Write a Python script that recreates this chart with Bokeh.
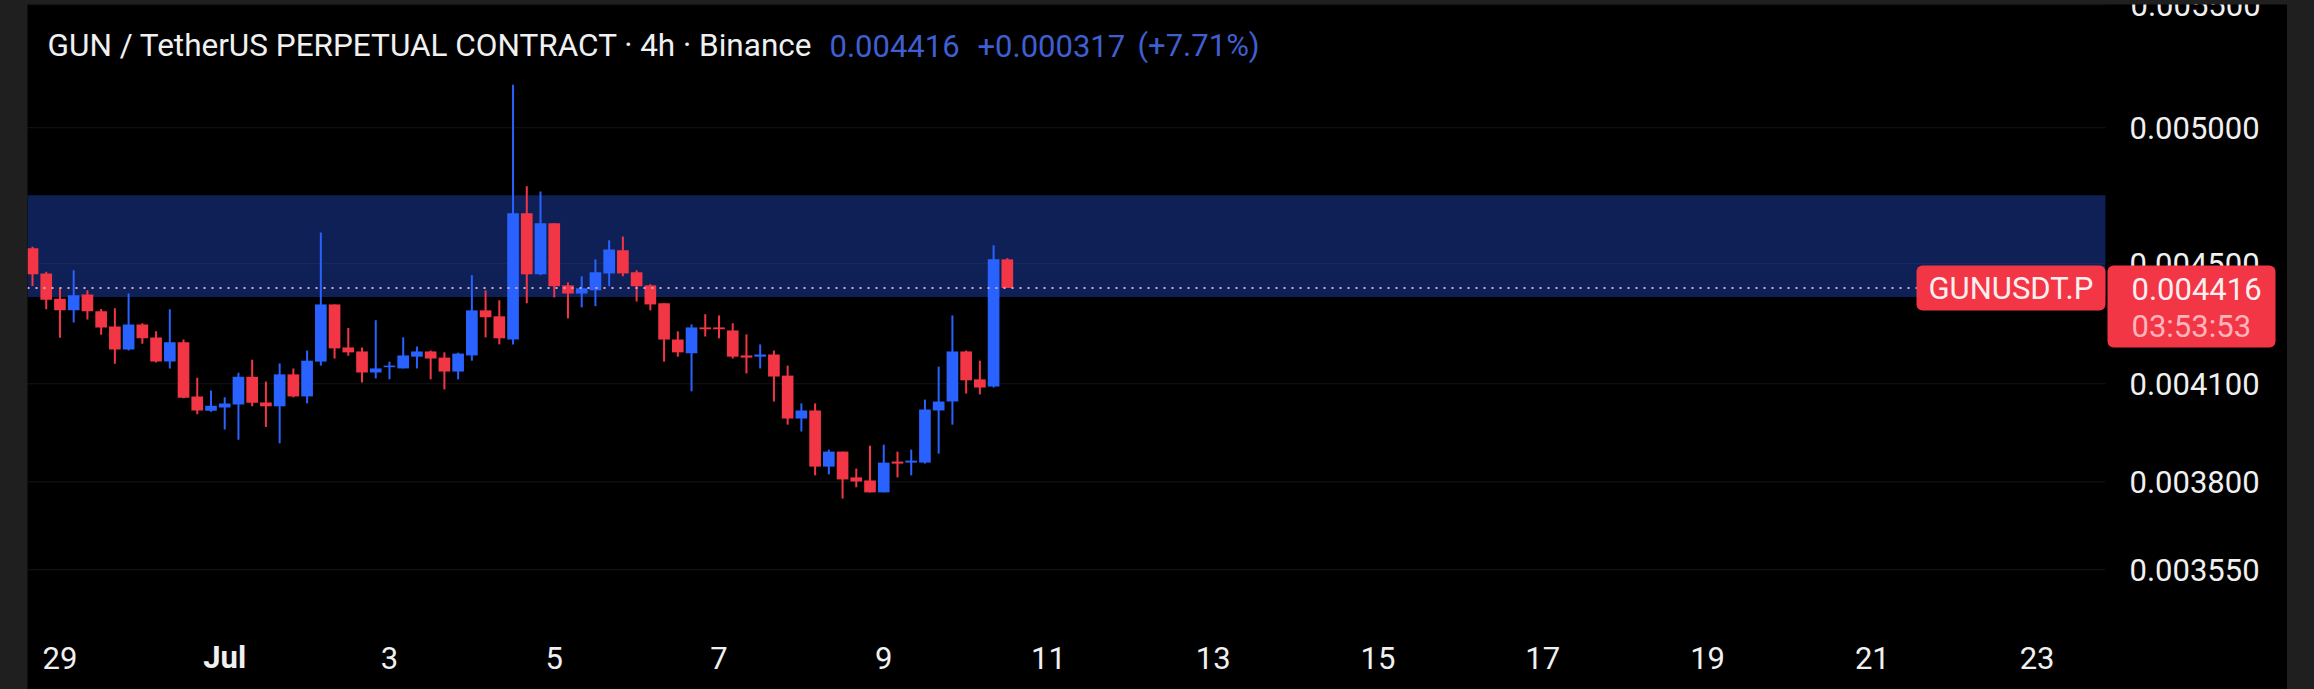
import numpy as np
from bokeh.embed import file_html
from bokeh.models import (BoxAnnotation, ColumnDataSource, FixedTicker, GlobalInlineStyleSheet,
                          Label, PrintfTickFormatter, Range1d)
from bokeh.plotting import figure
from bokeh.resources import INLINE

candle_open = [0.004554, 0.004466, 0.004379, 0.004340, 0.004394, 0.004337, 0.004286, 0.004210, 0.004293,
               0.004250, 0.004171, 0.004234, 0.004060, 0.004015, 0.004025, 0.004035, 0.004122, 0.004041,
               0.004029, 0.004130, 0.004060, 0.004171, 0.004360, 0.004217, 0.004204, 0.004136, 0.004153,
               0.004149, 0.004187, 0.004204, 0.004184, 0.004139, 0.004191, 0.004340, 0.004320, 0.004243,
               0.004679, 0.004463, 0.004643, 0.004425, 0.004397, 0.004408, 0.004466, 0.004547, 0.004470,
               0.004425, 0.004364, 0.004243, 0.004198, 0.004283, 0.004283, 0.004273, 0.004191, 0.004187,
               0.004194, 0.004126, 0.003991, 0.004016, 0.003845, 0.003890, 0.003813, 0.003804, 0.003769,
               0.003860, 0.003857, 0.003857, 0.004016, 0.004044, 0.004204, 0.004114, 0.004091, 0.004515]
candle_high = [0.004559, 0.004472, 0.004417, 0.004477, 0.004408, 0.004345, 0.004347, 0.004397, 0.004297,
               0.004270, 0.004344, 0.004243, 0.004119, 0.004079, 0.004057, 0.004135, 0.004177, 0.004107,
               0.004165, 0.004149, 0.004207, 0.004610, 0.004360, 0.004281, 0.004217, 0.004307, 0.004171,
               0.004250, 0.004220, 0.004207, 0.004201, 0.004200, 0.004460, 0.004408, 0.004374, 0.005169,
               0.004778, 0.004759, 0.004643, 0.004435, 0.004456, 0.004515, 0.004582, 0.004596, 0.004477,
               0.004429, 0.004364, 0.004270, 0.004293, 0.004327, 0.004323, 0.004297, 0.004260, 0.004227,
               0.004207, 0.004158, 0.004038, 0.004038, 0.003896, 0.003890, 0.003839, 0.003908, 0.003911,
               0.003890, 0.003896, 0.004050, 0.004155, 0.004323, 0.004207, 0.004174, 0.004565, 0.004519]
candle_low = [0.004423, 0.004344, 0.004249, 0.004299, 0.004309, 0.004259, 0.004164, 0.004207, 0.004229,
              0.004168, 0.004149, 0.004054, 0.004004, 0.004012, 0.003957, 0.003926, 0.004029, 0.003965,
              0.003915, 0.004057, 0.004038, 0.004158, 0.004181, 0.004190, 0.004104, 0.004117, 0.004114,
              0.004149, 0.004149, 0.004114, 0.004082, 0.004114, 0.004174, 0.004250, 0.004227, 0.004227,
              0.004364, 0.004460, 0.004384, 0.004313, 0.004350, 0.004354, 0.004422, 0.004456, 0.004370,
              0.004340, 0.004171, 0.004187, 0.004076, 0.004253, 0.004247, 0.004181, 0.004133, 0.004149,
              0.004044, 0.003972, 0.003951, 0.003819, 0.003822, 0.003751, 0.003784, 0.003769, 0.003769,
              0.003813, 0.003819, 0.003854, 0.003884, 0.003972, 0.004069, 0.004066, 0.004088, 0.004416]
candle_close = [0.004463, 0.004376, 0.004340, 0.004391, 0.004337, 0.004283, 0.004210, 0.004293, 0.004247,
                0.004171, 0.004234, 0.004056, 0.004016, 0.004031, 0.004038, 0.004122, 0.004040, 0.004029,
                0.004130, 0.004060, 0.004174, 0.004360, 0.004214, 0.004201, 0.004136, 0.004149, 0.004158,
                0.004191, 0.004204, 0.004181, 0.004139, 0.004197, 0.004340, 0.004317, 0.004247, 0.004679,
                0.004463, 0.004643, 0.004422, 0.004397, 0.004415, 0.004470, 0.004550, 0.004466, 0.004422,
                0.004360, 0.004243, 0.004201, 0.004283, 0.004277, 0.004277, 0.004187, 0.004184, 0.004194,
                0.004123, 0.003991, 0.004016, 0.003845, 0.003890, 0.003807, 0.003801, 0.003769, 0.003857,
                0.003854, 0.003863, 0.004019, 0.004044, 0.004204, 0.004111, 0.004088, 0.004515, 0.004416]

price_ticks = [0.00355, 0.0038, 0.0041, 0.0045, 0.005]
date_ticks = list(range(2, 147, 12))
date_labels = ["29", "", "3", "5", "7", "9", "11", "13", "15", "17", "19", "21", "23"]

zone_low = 0.004385
zone_high = 0.004745
last_price = 0.004416

BLUE = "#2962ff"
RED = "#f23645"
FONT = "Roboto"

# candle pane ends here, the rest of the frame is the price scale
pane_start = -0.364
pane_end = 150.98

idx = np.arange(len(candle_open))
opens = np.array(candle_open)
closes = np.array(candle_close)
up = closes >= opens
source = ColumnDataSource(data=dict(
    x=idx,
    top=np.maximum(opens, closes),
    bottom=np.minimum(opens, closes),
    high=candle_high,
    low=candle_low,
    color=[BLUE if u else RED for u in up],
))

# the grey screenshot frame is just the page showing round the figure.
# annotations get clipped to the frame, so the frame fills the figure and the axes
# pull their labels back inside with negative standoffs
p = figure(width=2260, height=685, margin=(4, 0, 0, 27), output_backend="svg", toolbar_location=None,
           y_axis_type="log", y_axis_location="right",
           x_range=Range1d(pane_start, 164.24), y_range=Range1d(0.003235, 0.005501),
           background_fill_color="#000000", border_fill_color="#000000",
           min_border_left=0, min_border_right=0, min_border_top=0, min_border_bottom=0)
p.outline_line_color = None
p.stylesheets = [GlobalInlineStyleSheet(css="body{background:#1f1f1f}")]
p.grid.visible = False

p.yaxis.ticker = FixedTicker(ticks=price_ticks)
p.yaxis.formatter = PrintfTickFormatter(format="%.6f")
p.yaxis.major_label_standoff = -164
p.xaxis.ticker = FixedTicker(ticks=date_ticks)
p.xaxis.major_label_overrides = dict(zip(date_ticks, date_labels))
p.xaxis.major_label_standoff = -49
for ax in (p.xaxis[0], p.yaxis[0]):
    ax.axis_line_color = None
    ax.major_tick_line_color = None
    ax.minor_tick_line_color = None
    ax.major_label_text_color = "#f0f0f0"
    ax.major_label_text_font = FONT
    ax.major_label_text_font_size = "31px"

grid_prices = price_ticks + [0.0055]
p.segment(x0=[pane_start] * len(grid_prices), y0=grid_prices, x1=[pane_end] * len(grid_prices),
          y1=grid_prices, line_color="#151515", line_width=1, level="underlay")
p.add_layout(BoxAnnotation(bottom=zone_low, top=zone_high, right=pane_end, fill_color="#1b3a9e",
                           fill_alpha=0.55, line_color=None, level="underlay"))

p.segment("x", "high", "x", "low", source=source, color="color", line_width=2)
p.vbar("x", 0.85, "top", "bottom", source=source, fill_color="color", line_color=None)
p.segment(x0=[pane_start], y0=[last_price], x1=[pane_end], y1=[last_price], line_color="#d6a8c8",
          line_width=2, line_dash="2 6")


def put(text, x, y, color="#f0f0f0", size="31px", align="left", style="normal", x_units="canvas", y_units="canvas"):
    p.add_layout(Label(x=x, y=y, text=text, x_units=x_units, y_units=y_units, text_color=color,
                       text_font=FONT, text_font_size=size, text_align=align,
                       text_baseline="middle", text_font_style=style))


# price tags
for left, right, bottom in [(1889, 2078, 306), (2080, 2248, 343)]:
    p.add_layout(BoxAnnotation(left=left, right=right, top=261, bottom=bottom, left_units="canvas",
                               right_units="canvas", top_units="canvas", bottom_units="canvas",
                               fill_color=RED, fill_alpha=1, line_color=None, border_radius=6))
put("GUNUSDT.P", 1901, 284, color="#ffeef0")
put("0.004416", 2104, 284, color="#ffeef0")
put("03:53:53", 2104, 322, color="#ffb4bc")
put("0.005500", 2103, 0.0055, y_units="data")
put("Jul", date_ticks[1], 653, align="center", style="bold", x_units="data")
put("GUN / TetherUS PERPETUAL CONTRACT · 4h · Binance", 20, 41, size="31.5px")
put("0.004416", 802, 41, color="#3f5fd0")
put("+0.000317", 950, 41, color="#3f5fd0")
put("(+7.71%)", 1110, 41, color="#3f5fd0")

open("out.html", "w").write(file_html(p, INLINE))
